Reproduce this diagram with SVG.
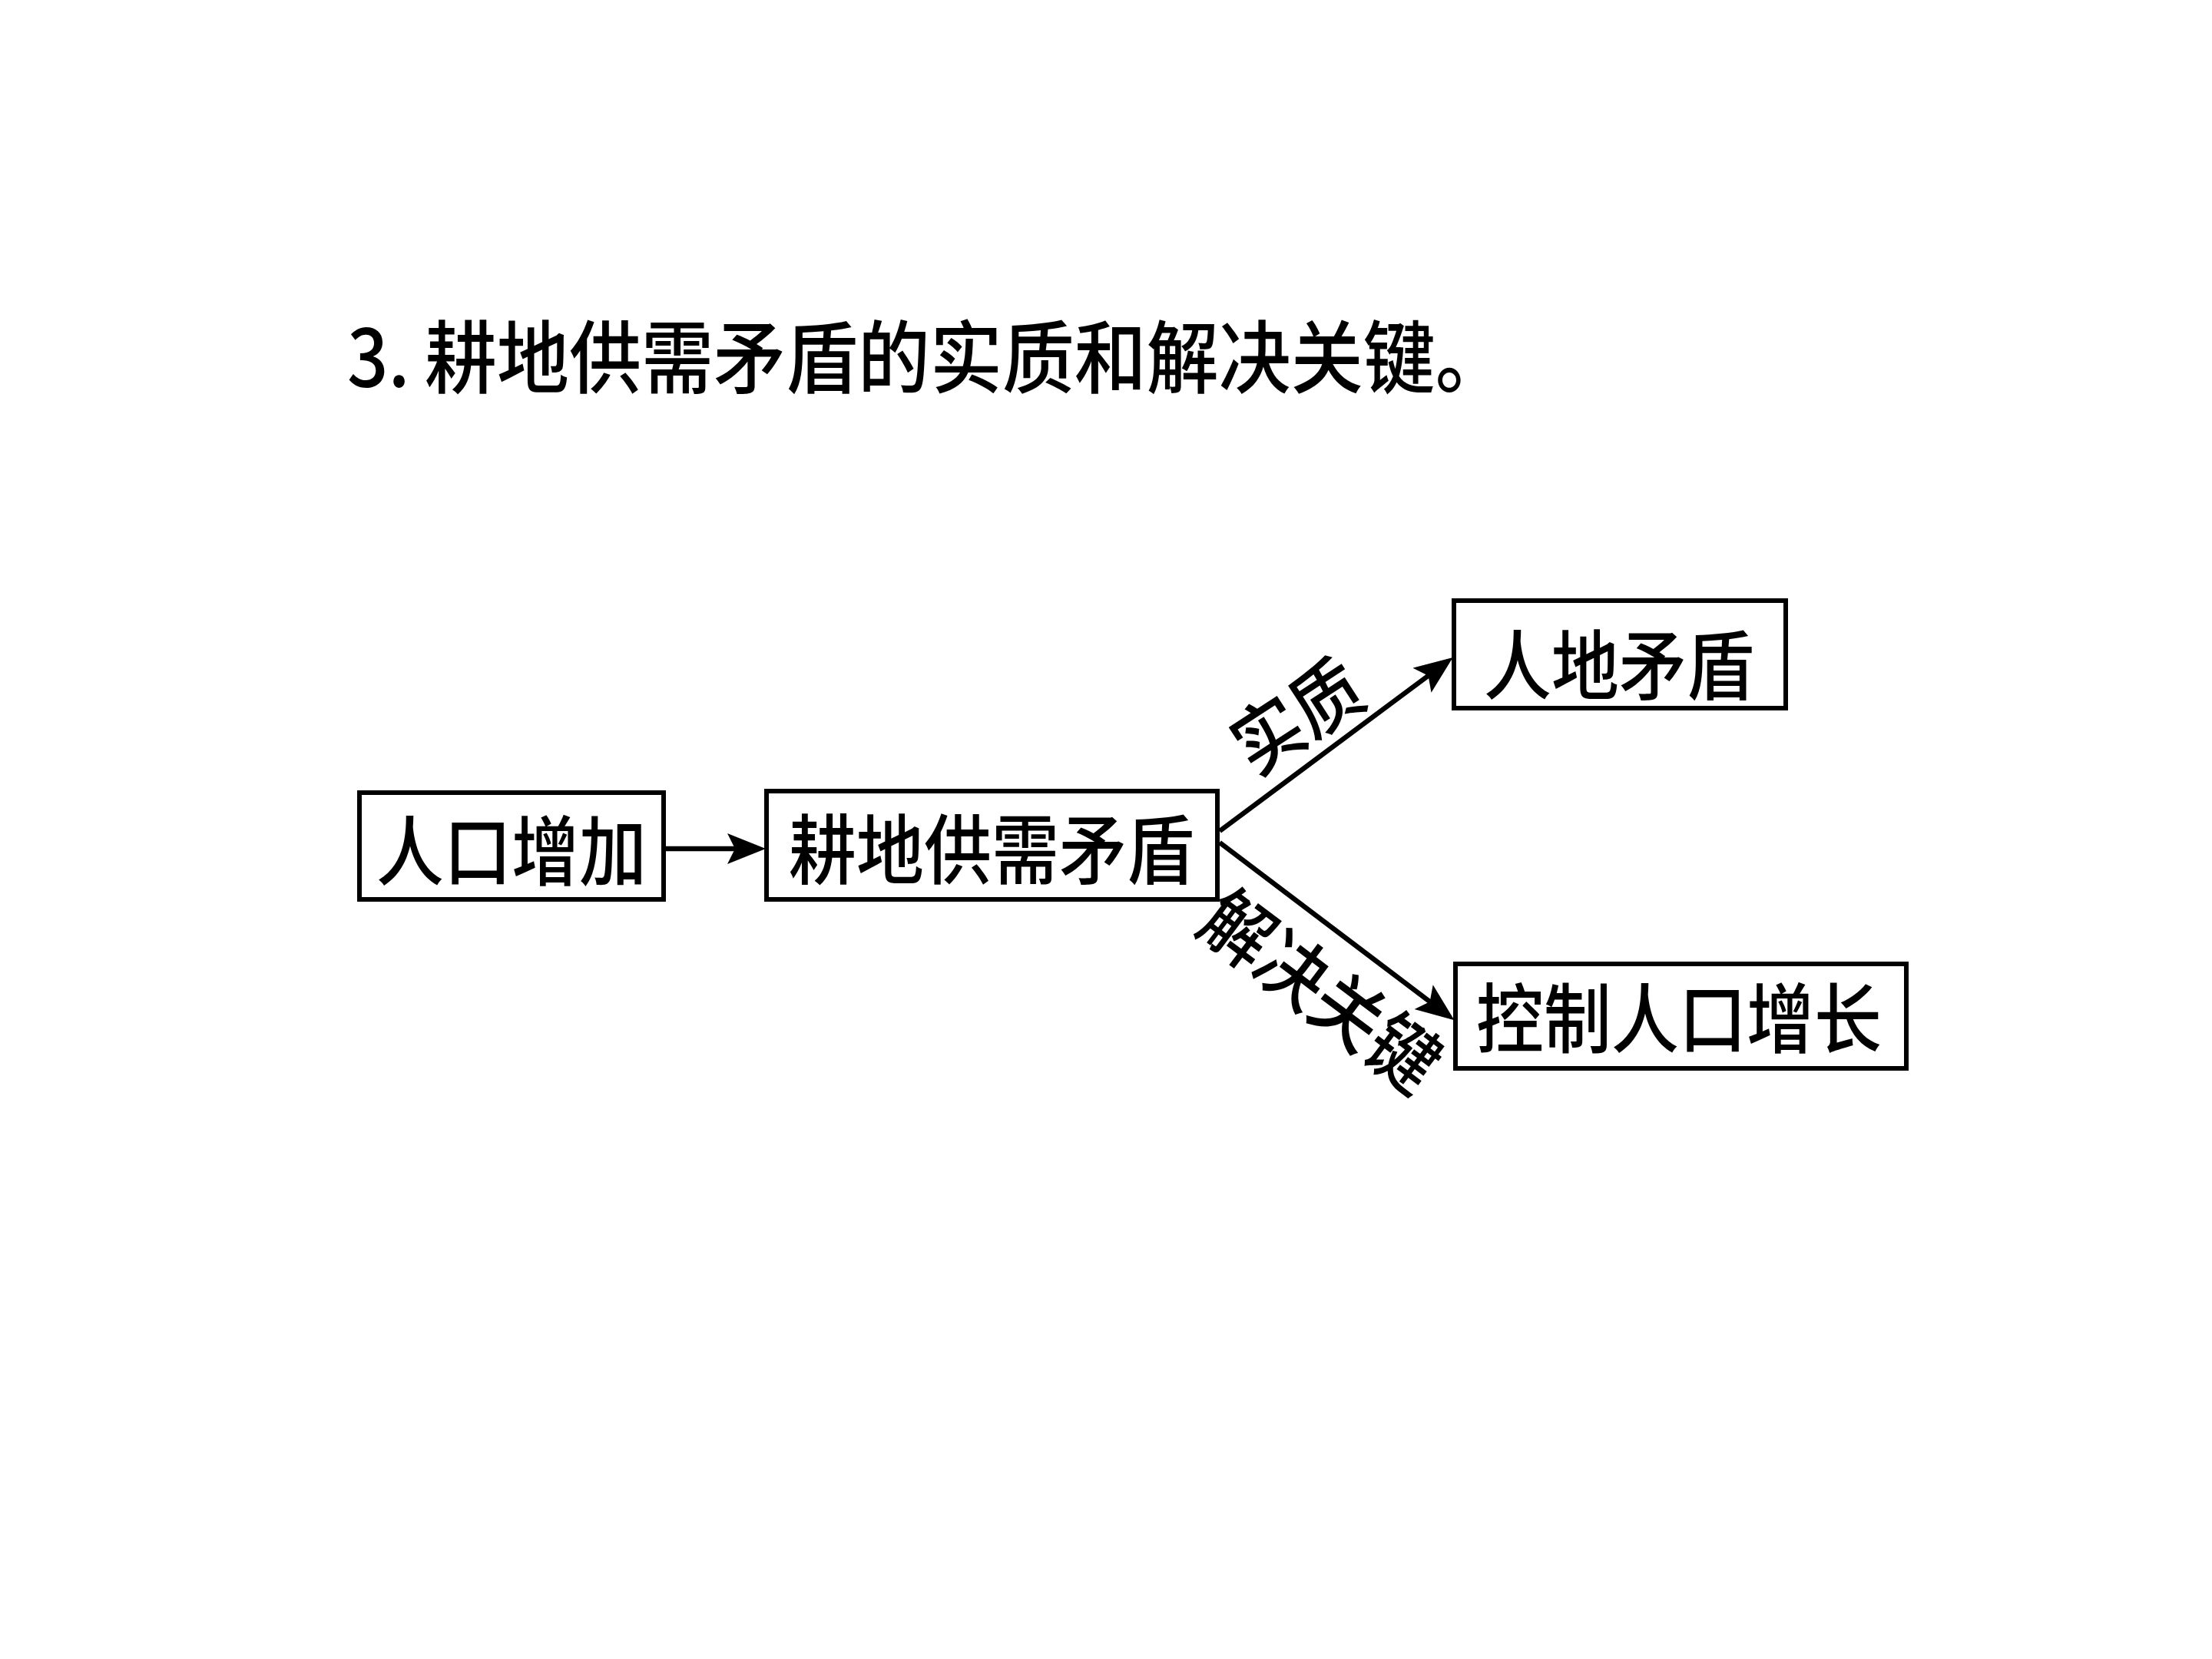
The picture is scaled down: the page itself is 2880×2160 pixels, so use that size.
<svg xmlns="http://www.w3.org/2000/svg" width="2880" height="2160" viewBox="0 0 2880 2160">
<style>
  .box { fill: #ffffff; stroke: #000000; stroke-width: 6; }
  .t { font-family: "Noto Sans CJK SC", "Noto Sans CJK JP", sans-serif; fill: #000000; font-weight: 500; }
  .node { font-size: 88px; text-anchor: middle; dominant-baseline: central; }
  .lbl { font-size: 90px; text-anchor: middle; dominant-baseline: central; }
  .conn { stroke: #000000; stroke-width: 6.5; fill: none; marker-end: url(#arrow); }
</style>
<defs>
  <marker id="arrow" markerUnits="userSpaceOnUse" markerWidth="54" markerHeight="42" refX="18" refY="20" orient="auto">
    <path d="M0,0 L50,20 L0,40 L10,20 Z" fill="#000000"/>
  </marker>
</defs>
<rect width="2880" height="2160" fill="#ffffff"/>

<g id="title">
  <text class="t" transform="translate(0,458) scale(1,1.1)" font-size="94" dominant-baseline="central"><tspan x="452">3.</tspan><tspan x="553">耕地供需矛盾的实质和解决关键。</tspan></text>
</g>

<g id="connectors">
  <line class="conn" x1="867" y1="1105" x2="965" y2="1105"/>
  <line class="conn" x1="1588" y1="1082" x2="1866" y2="875"/>
  <line class="conn" x1="1588" y1="1097" x2="1868" y2="1309"/>
  <text class="t lbl" transform="translate(1685,927) rotate(-33) scale(1,1.1)">实质</text>
  <text class="t lbl" transform="translate(1724,1285) rotate(37) scale(1,1.1)">解决关键</text>
</g>

<g id="node-renkou">
  <rect class="box" x="468" y="1032" width="396" height="139"/>
  <text class="t node" transform="translate(666,1102) scale(1,1.12)">人口增加</text>
</g>
<g id="node-gengdi">
  <rect class="box" x="998" y="1030" width="587" height="141"/>
  <text class="t node" transform="translate(1291,1100) scale(1,1.12)">耕地供需矛盾</text>
</g>
<g id="node-rendi">
  <rect class="box" x="1893" y="782" width="432" height="140"/>
  <text class="t node" transform="translate(2108,860) scale(1,1.12)">人地矛盾</text>
</g>
<g id="node-kongzhi">
  <rect class="box" x="1895" y="1255" width="587" height="136"/>
  <text class="t node" transform="translate(2186,1320) scale(1,1.12)">控制人口增长</text>
</g>
</svg>
